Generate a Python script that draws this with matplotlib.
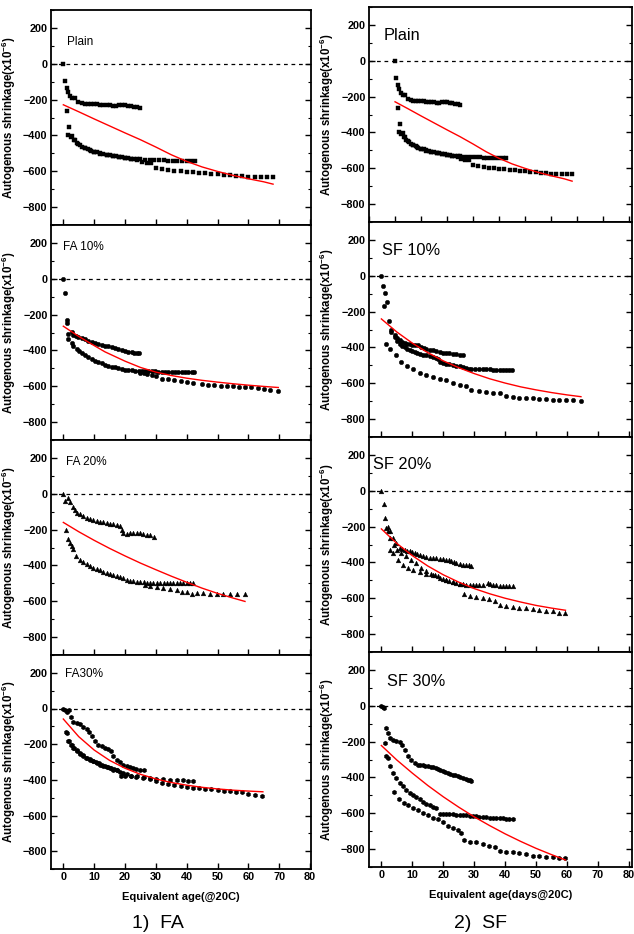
import matplotlib
matplotlib.use("Agg")
import matplotlib.pyplot as plt
from matplotlib.ticker import MultipleLocator

# values: (equivalent age [days], autogenous shrinkage [x10^-6])
# each panel has three specimens (a, b, c) and one fitted curve

plain_a = [(0, 0), (0.55, -98), (1.1, -135), (1.6, -159), (2.2, -178), (2.9, -191), (3.8, -191),
           (4.9, -215), (6, -220), (7, -222), (8, -224), (9, -225), (10, -226), (11, -227), (12, -228),
           (13, -229), (14, -231), (15, -233), (16, -236), (17, -238), (18, -232), (19, -228), (20, -231),
           (21, -236), (22, -238), (23, -241), (24, -243), (24.9, -245)]
plain_b = [(1.1, -265), (1.85, -354), (2.9, -406), (3.8, -428), (4.9, -450), (6, -462), (7, -470),
           (8, -478), (9, -485), (10, -490), (11, -495), (12, -499), (13, -503), (14, -507), (15, -511),
           (16, -514), (17, -517), (18, -520), (19, -522), (20, -525), (21, -527), (22, -529), (23, -531),
           (24, -532), (25, -533), (26.5, -535), (28, -536), (29.5, -537), (31, -538), (32.5, -539),
           (34, -540), (35.5, -540), (37, -541), (38.5, -542), (40, -543), (41.5, -544), (42.7, -545)]
plain_c = [(1.6, -400), (2.4, -410), (3.3, -425), (4.4, -440), (5.5, -455), (7, -470), (8.5, -482),
           (10, -492), (12, -502), (14, -510), (16, -517), (18, -523), (20, -528), (22, -533), (24, -538),
           (25.5, -548), (27, -552), (28.5, -556), (30, -580), (32, -588), (34, -593), (36, -597),
           (38, -600), (40, -603), (42, -606), (44, -609), (46, -612), (48, -615), (50, -618), (52, -620),
           (54, -623), (56, -626), (58, -628), (60, -630), (62, -631), (64, -632), (66, -632), (68, -632)]
plain_fit = [(0, -229), (5, -268), (10, -308), (15, -347), (20, -386), (25, -424), (30, -465), (35, -508),
             (40, -545), (45, -576), (50, -601), (55, -623), (60, -642), (65, -659), (68, -672)]

fa10_a = [(0, 0), (0.55, -78), (1.1, -228), (1.3, -246), (2.7, -297), (3.2, -315), (4, -320), (4.9, -324),
          (6, -331), (7, -339), (8, -345), (9.2, -352), (10.3, -358), (11.4, -365), (12.5, -370),
          (13.5, -374), (14.6, -378), (15.7, -383), (16.8, -388), (17.8, -393), (18.9, -398), (20, -404),
          (21.1, -408), (22.2, -411), (23, -412), (23.8, -413), (24.4, -416)]
fa10_b = [(1.6, -306), (1.6, -339), (2.7, -358), (3.2, -376), (4.3, -394), (5.2, -406), (6, -417),
          (7, -428), (8.1, -439), (9.2, -448), (10.3, -457), (11.4, -465), (12.5, -472), (13.5, -479),
          (14.6, -485), (15.7, -490), (16.8, -494), (17.8, -499), (18.9, -504), (20, -507), (21.1, -509),
          (22.2, -511), (23.3, -513), (24.4, -514), (25.4, -515), (26.5, -516), (27.6, -517), (28.7, -517),
          (29.7, -517), (30.8, -518), (31.9, -518), (33, -518), (34, -519), (35.1, -519), (36.2, -519),
          (37.3, -520), (38.4, -520), (39.5, -520), (40.5, -520), (41.6, -521), (42.5, -522)]
fa10_c = [(24.9, -524), (26, -528), (27, -533), (28.7, -537), (30, -545), (31.9, -559), (34, -561),
          (36, -565), (38, -570), (40, -575), (42, -580), (44.9, -590), (47, -592), (49, -594), (51, -596),
          (53, -598), (55, -600), (57, -602), (59, -604), (61, -606), (63, -610), (65, -614), (67, -619),
          (69.7, -624)]
fa10_fit = [(0, -265), (5, -322), (10, -373), (13.5, -408), (15, -420), (20, -460), (25, -495), (30, -521),
            (35, -540), (40, -555), (45, -567), (50, -577), (55, -586), (60, -594), (65, -601), (69.7, -607)]

fa20_a = [(0, 0), (0.65, -41), (1.4, -26), (2.2, -44), (3, -72), (3.8, -90), (4.3, -109), (5.4, -114),
          (6.5, -122), (7.6, -133), (8.6, -140), (9.7, -146), (10.8, -151), (11.9, -157), (13, -159),
          (14, -164), (15.1, -168), (16.2, -170), (17.3, -173), (18.4, -182), (18.9, -201), (19.5, -219),
          (20.5, -223), (21.6, -221), (22.7, -219), (23.8, -219), (24.9, -221), (25.9, -225), (27, -229),
          (28.1, -232), (29.4, -243)]
fa20_b = [(0.9, -205), (1.4, -253), (2.2, -275), (2.7, -293), (3.2, -311), (4.1, -345), (5.4, -367),
          (6.5, -380), (7.6, -391), (8.6, -402), (9.7, -413), (10.8, -421), (11.9, -428), (13, -434),
          (14, -440), (15.1, -447), (16.2, -453), (17.3, -459), (18.4, -465), (19.5, -472), (20.5, -483),
          (21.6, -485), (22.7, -487), (23.8, -490), (24.9, -492), (26, -494), (27, -496), (28.1, -496),
          (29.2, -496), (30.3, -496), (31.4, -496), (32.5, -496), (33.5, -496), (34.6, -496), (35.7, -496),
          (36.8, -496), (37.8, -496), (38.9, -496), (40, -496), (41.1, -498), (42.2, -500)]
fa20_c = [(26.5, -509), (28.1, -516), (30.3, -520), (32.4, -527), (34.6, -533), (36.8, -538), (38.4, -546),
          (40, -551), (41.6, -560), (43.2, -553), (45.4, -555), (47.6, -557), (49.7, -560), (51.9, -560),
          (54, -560), (56.2, -562), (58.9, -562)]
fa20_fit = [(0, -160), (5, -212), (10, -260), (15, -305), (20, -347), (25, -387), (30, -424), (35, -460),
            (40, -494), (45, -527), (50, -556), (55, -582), (58.9, -601)]

fa30_a = [(0, 0), (0.6, -9), (1.3, -19), (1.9, -11), (2.5, -46), (3.2, -74), (4.3, -80), (5.4, -89),
          (6.5, -102), (7.6, -117), (8.4, -133), (9.2, -152), (10.2, -185), (11.3, -207), (12.4, -213),
          (13.5, -219), (14.6, -226), (15.4, -237), (16.2, -269), (17.3, -291), (18.3, -302), (19.4, -315),
          (20.5, -322), (21.6, -330), (22.7, -335), (23.7, -339), (24.8, -343), (26.1, -344)]
fa30_b = [(0.9, -130), (1.6, -185), (2.4, -205), (3.2, -219), (4.3, -231), (5.4, -250), (6.5, -263),
          (7.6, -278), (8.6, -287), (9.7, -296), (10.8, -306), (11.9, -315), (12.9, -320), (14, -326),
          (15.1, -333), (16.2, -343), (17.3, -346), (18.3, -354), (19.4, -363), (20.5, -370), (22.1, -380),
          (23.7, -385), (25.9, -391), (28, -396), (30.2, -398), (32.4, -398), (34.5, -400), (36.7, -400),
          (38.8, -402), (40.5, -404), (42.1, -404)]
fa30_c = [(1.1, -139), (1.7, -181), (2.7, -204), (3.5, -222), (4.5, -240), (5.5, -255), (6.5, -265),
          (7.5, -275), (8.5, -285), (9.5, -292), (10.5, -300), (11.5, -308), (12.5, -315), (13.5, -322),
          (14.5, -328), (15.5, -335), (16.5, -340), (17.5, -345), (18.8, -378), (20, -378), (22, -378),
          (24, -379), (26, -383), (28, -392), (30, -405), (32, -418), (34, -424), (36, -430), (38, -436),
          (40, -441), (42, -445), (44, -448), (46, -451), (48, -454), (50, -457), (52, -460), (54, -463),
          (56, -467), (58, -471), (60, -477), (62, -483), (64.5, -490)]
fa30_fit = [(0, -59), (5, -158), (10, -233), (15, -291), (20, -335), (25, -369), (30, -395), (35, -415),
            (40, -430), (45, -442), (50, -451), (55, -458), (60, -463), (64.7, -467)]

sf10_a = [(0, 0), (0.65, -59), (1.2, -98), (1.0, -167), (1.9, -148), (2.4, -250), (3.2, -305), (4.3, -333),
          (5.1, -350), (5.9, -361), (6.7, -370), (7.5, -376), (8.3, -380), (9.1, -383), (10, -384),
          (10.8, -385), (11.8, -389), (12.9, -398), (13.7, -403), (14.5, -407), (15.6, -412), (16.7, -417),
          (17.7, -422), (18.8, -426), (19.9, -429), (21, -431), (22, -433), (23.1, -435), (24.2, -438),
          (25.3, -441), (26.3, -443)]
sf10_b = [(3.2, -315), (4.3, -343), (5.1, -362), (5.9, -380), (6.7, -390), (7.5, -398), (8.3, -408),
          (9.1, -417), (10, -422), (10.8, -426), (11.6, -430), (12.4, -435), (13.4, -440), (14.5, -444),
          (15.6, -449), (16.7, -454), (17.5, -459), (18.3, -463), (18.8, -481), (19.9, -486), (21, -491),
          (22, -494), (23.1, -496), (24.2, -501), (25.3, -506), (26.3, -510), (27.4, -515), (28.2, -518),
          (29, -520), (30.4, -520), (31.7, -520), (32.8, -521), (33.9, -522), (35, -523), (36, -524),
          (37.1, -526), (38.2, -528), (39.3, -528), (40.3, -528), (41.4, -528), (42.3, -528)]
sf10_c = [(1.4, -380), (2.7, -407), (4.6, -444), (6.5, -481), (8.3, -504), (10.2, -522), (12.4, -543),
          (14.5, -554), (16.7, -565), (18.8, -574), (21, -583), (23.1, -596), (25.3, -609), (27.4, -615),
          (29, -639), (31.7, -644), (33.9, -648), (36, -652), (38.2, -657), (40.3, -670), (42.5, -676),
          (44.6, -680), (46.8, -681), (48.9, -685), (51.1, -687), (53.2, -689), (55.4, -691), (57.5, -693),
          (59.7, -694), (61.8, -696), (64.5, -698)]
sf10_fit = [(0, -241), (5, -314), (10, -376), (15, -429), (20, -475), (25, -513), (30, -546), (35, -575),
            (40, -599), (45, -620), (50, -637), (55, -652), (60, -665), (64.5, -675)]

sf20_a = [(0, 0), (0.75, -76), (1.2, -153), (1.6, -209), (2.2, -200), (2.7, -227), (3.8, -261), (4.8, -292),
          (5.9, -320), (6.7, -325), (7.5, -329), (8.3, -334), (9.1, -338), (10, -342), (10.8, -347),
          (11.6, -352), (12.4, -357), (13.4, -365), (14.5, -372), (15.6, -374), (16.7, -375), (17.7, -377),
          (18.8, -379), (19.9, -381), (21, -384), (21.8, -388), (22.6, -394), (23.4, -400), (24.2, -405),
          (25.3, -409), (26.3, -412), (27.4, -415), (28.2, -416), (29, -418)]
sf20_b = [(2.2, -227), (2.9, -264), (4, -301), (5.1, -329), (6.5, -347), (8.1, -366), (9.7, -384),
          (11.3, -403), (12.9, -431), (14.5, -449), (16.1, -464), (17.2, -470), (18.3, -477), (19.9, -495),
          (21, -500), (22, -505), (23.1, -510), (24.2, -514), (25.3, -519), (26.3, -523), (27.4, -525),
          (28.5, -527), (29.6, -527), (30.6, -527), (31.7, -527), (32.8, -527), (34.4, -514), (35.2, -522),
          (36, -527), (37.1, -528), (38.2, -530), (39.3, -531), (40.3, -532), (41.4, -533), (42.5, -534)]
sf20_c = [(2.7, -329), (3.8, -347), (5.4, -384), (7, -412), (8.6, -431), (10.2, -445), (12.4, -453),
          (14.5, -464), (16.7, -473), (18.8, -486), (21, -499), (23.1, -508), (25.3, -523), (26.6, -579),
          (28.5, -586), (30.6, -591), (32.8, -597), (34.9, -606), (36.6, -616), (38.2, -638), (40.3, -643),
          (42.5, -647), (44.6, -652), (46.8, -652), (48.9, -662), (51.1, -667), (53.2, -671), (55.4, -673),
          (57.5, -680), (59.5, -682)]
sf20_fit = [(0, -213), (5, -294), (10, -362), (15, -420), (20, -469), (25, -510), (30, -546), (35, -575),
            (40, -600), (45, -621), (50, -640), (55, -655), (59.5, -667)]

sf30_a = [(0, 0), (0.5, -7), (0.9, -11), (1.4, -126), (2.2, -150), (2.9, -181), (3.8, -190), (4.8, -196),
          (5.9, -205), (6.8, -218), (7.5, -246), (8.6, -283), (9.7, -301), (10.8, -322), (11.8, -329),
          (12.6, -331), (13.4, -333), (14.2, -335), (15.1, -338), (15.9, -341), (16.7, -344), (17.5, -347),
          (18.3, -351), (19.1, -356), (19.9, -362), (20.7, -368), (21.5, -375), (22.3, -380), (23.1, -384),
          (23.9, -389), (24.7, -394), (25.5, -398), (26.3, -403), (27.2, -408), (28, -412), (28.5, -416),
          (29, -421)]
sf30_b = [(1.1, -209), (1.6, -283), (2.2, -292), (2.9, -338), (3.8, -375), (4.8, -403), (5.9, -431),
          (7, -449), (8.1, -468), (9.1, -486), (10.2, -499), (11.3, -510), (12.4, -523), (13.4, -536),
          (14.5, -547), (15.6, -555), (16.7, -564), (17.7, -569), (18.8, -603), (19.9, -603), (21, -604),
          (22, -605), (23.1, -606), (24.2, -607), (25.3, -608), (26.3, -610), (27.4, -612), (28.5, -614),
          (29.6, -616), (30.6, -617), (31.7, -619), (32.8, -621), (33.9, -623), (35, -625), (36, -627),
          (37.1, -627), (38.2, -628), (39.3, -629), (40.3, -630), (41.4, -632), (42.5, -634)]
sf30_c = [(4, -481), (5.6, -523), (7.2, -542), (8.6, -556), (10.2, -569), (11.8, -584), (13.4, -597),
          (15.1, -610), (16.7, -625), (18.3, -634), (19.9, -647), (21.5, -671), (23.1, -684), (24.7, -695),
          (25.8, -708), (26.6, -749), (28.5, -758), (30.6, -763), (32.8, -773), (34.9, -782), (36.6, -791),
          (38.2, -810), (40.3, -815), (42.5, -819), (44.6, -823), (46.8, -828), (48.9, -837), (51.1, -841),
          (53.2, -843), (55.4, -843), (57.5, -847), (59.5, -847)]
sf30_fit = [(0, -222), (5, -303), (10, -376), (15, -445), (20, -508), (25, -566), (30, -620), (35, -669),
            (40, -715), (45, -757), (50, -796), (55, -831), (59.5, -861)]

plt.rcParams['font.family'] = ['Liberation Sans', 'DejaVu Sans']
plt.rcParams['mathtext.default'] = 'regular'

W, H = 634.0, 934.0
fig = plt.figure(figsize=(W / 100, H / 100), dpi=100)


def add_panel(left, top, width, height):
    return fig.add_axes([left / W, 1 - (top + height) / H, width / W, height / H])


def draw(ax, series, marker, ms, fit, label, lsize, lx, ly, xlim=(-4, 80.3), bottom=False, xlabel=None):
    ax.axhline(0, color='k', ls=(0, (3, 3)), lw=0.9, zorder=1)
    for s in series:
        x, y = zip(*s)
        ax.plot(x, y, ls='none', marker=marker, ms=ms, color='k', mew=0.3, zorder=2)
    fx, fy = zip(*fit)
    ax.plot(fx, fy, color='red', lw=1.0, zorder=3)
    ax.set_xlim(*xlim)
    ax.set_ylim(-900, 300)
    ax.xaxis.set_major_locator(MultipleLocator(10))
    ax.yaxis.set_major_locator(MultipleLocator(200))
    ax.yaxis.set_minor_locator(MultipleLocator(100))
    ax.tick_params(which='both', direction='in', right=True, top=False, pad=2.5)
    ax.tick_params(which='major', length=4, width=1)
    ax.tick_params(which='minor', length=2, width=0.8)
    for sp in ax.spines.values():
        sp.set_linewidth(1.3)
    for lab in ax.get_yticklabels() + ax.get_xticklabels():
        lab.set_fontweight('bold')
        lab.set_fontsize(7.8)
    ax.set_ylabel('Autogenous shrinkage(x10$^{-6}$)', fontsize=8.3, fontweight='bold')
    ax.yaxis.set_label_coords(-0.125, 0.5)
    if bottom:
        ax.set_xlabel(xlabel, fontsize=8, fontweight='bold', labelpad=7)
    else:
        ax.tick_params(labelbottom=False)
    ax.text(lx, ly, label, transform=ax.transAxes, fontsize=lsize, ha='left', va='center')


# left column: fly ash
tops_l = [10, 225, 440, 655]
left_sets = [
    ([plain_a, plain_b, plain_c], 's', 2.8, plain_fit, 'Plain', 0.06, 0.853),
    ([fa10_a, fa10_b, fa10_c], 'o', 3.2, fa10_fit, 'FA 10%', 0.046, 0.90),
    ([fa20_a, fa20_b, fa20_c], '^', 3.4, fa20_fit, 'FA 20%', 0.058, 0.898),
    ([fa30_a, fa30_b, fa30_c], 'h', 3.4, fa30_fit, 'FA30%', 0.054, 0.91),
]
for i, (series, mk, ms, fit, lab, lx, ly) in enumerate(left_sets):
    ax = add_panel(51, tops_l[i], 260, 215 if i < 3 else 214)
    draw(ax, series, mk, ms, fit, lab, 8.5, lx, ly, bottom=(i == 3), xlabel='Equivalent age(@20C)')

# right column: silica fume
tops_r = [7, 222, 437, 652]
right_sets = [
    ([plain_a, plain_b, plain_c], 's', 2.6, plain_fit, 'Plain', 0.057, 0.867, (-10, 91)),
    ([sf10_a, sf10_b, sf10_c], 'o', 3.2, sf10_fit, 'SF 10%', 0.048, 0.867, (-4, 81)),
    ([sf20_a, sf20_b, sf20_c], '^', 3.4, sf20_fit, 'SF 20%', 0.015, 0.874, (-4, 81)),
    ([sf30_a, sf30_b, sf30_c], 'h', 3.4, sf30_fit, 'SF 30%', 0.067, 0.862, (-4, 81)),
]
for i, (series, mk, ms, fit, lab, lx, ly, xl) in enumerate(right_sets):
    ax = add_panel(369, tops_r[i], 263, 215)
    draw(ax, series, mk, ms, fit, lab, 11.8, lx, ly, xlim=xl, bottom=(i == 3),
         xlabel='Equivalent age(days@20C)')

fig.text(158 / W, 1 - 924 / H, '1)  FA', fontsize=14, ha='center', va='center')
fig.text(481 / W, 1 - 924 / H, '2)  SF', fontsize=14, ha='center', va='center')

fig.savefig('out.png', dpi=100)
